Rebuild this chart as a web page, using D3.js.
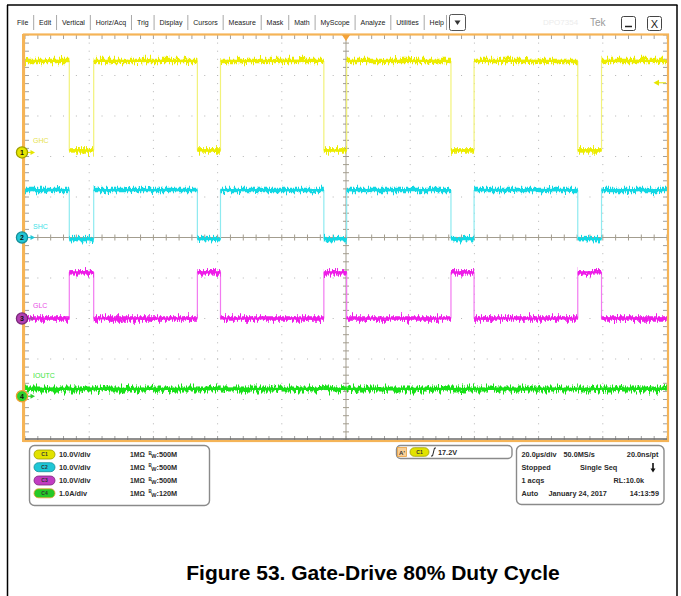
<!DOCTYPE html>
<html><head><meta charset="utf-8">
<script src="https://cdn.jsdelivr.net/npm/d3@7"></script>
<style>body{margin:0;background:#fff}svg{display:block;font-family:"Liberation Sans",Arial,sans-serif}</style>
</head><body><svg id="c" width="681" height="596"></svg>
<script>
// ---------------- data ----------------
const channelNames = ["GHC", "SHC", "GLC", "IOUTC"];
const channelIds = ["C1", "C2", "C3", "C4"];
const verticalScales = ["10.0V/div", "10.0V/div", "10.0V/div", "1.0A/div"];
const unitsPerDiv = [10, 10, 10, 1];
const positionDiv = [2.1, 0, -2.0, -3.92];
const bandwidths = ["500M", "500M", "500M", "120M"];
const riseTimes = [-78.6, -39.1, 0.2, 39.9, 79.6];   // µs, GHC rising edges
const fallTimes = [-86.2, -46.3, -6.9, 32.7, 72.2];  // µs, GHC falling edges
const levelWhenOn = [22.6, 11.7, 0.0, 0.18];   // while GHC is high
const levelWhenOff = [0.5, -0.4, 11.4, 0.18];  // while GHC is low
const triggerLevel = 17.2;
const timeDomain = [-100, 100];
const menuItems = ["File", "Edit", "Vertical", "Horiz/Acq", "Trig", "Display", "Cursors", "Measure", "Mask", "Math", "MyScope", "Analyze", "Utilities", "Help"];
const acqRow1 = ["20.0µs/div", "50.0MS/s", "20.0ns/pt"];
const acqRow2 = ["Stopped", "Single Seq"];
const acqRow3 = ["1 acqs", "RL:10.0k"];
const acqRow4 = ["Auto", "January 24, 2017", "14:13:59"];
const triggerText = "17.2V";
const caption = "Figure 53. Gate-Drive 80% Duty Cycle";

// ---------------- styles ----------------
const traceColors = ["#ecec00", "#12d8e4", "#ee1ce8", "#18e018"];
const edgeColors = ["#f2f27a", "#8eeaf0", "#f27af0", "#7aef7a"];
const labelColors = ["#e6e24a", "#3cdfe8", "#e84ce4", "#3ee43e"];
const markerFill = ["#e6e600", "#22c7d6", "#b33fb3", "#2ed12e"];
const markerRing = ["#9e9e00", "#168f99", "#7a2a7a", "#f0a030"];
const pillFill = ["#e2e200", "#1fc7d6", "#c23cc2", "#26c826"];

const svg = d3.select("#c");
const L = 25, R = 667, T = 35, B = 440;
const x = d3.scaleLinear().domain(timeDomain).range([L, R]);
const xDiv = d3.scaleLinear().domain([-5, 5]).range([L, R]);
const yDiv = d3.scaleLinear().domain([-5, 5]).range([B, T]);
const yCh = (i, v) => yDiv(positionDiv[i] + v / unitsPerDiv[i]);

// outer frame
svg.append("line").attr("x1", 7).attr("x2", 677.5).attr("y1", 5).attr("y2", 5).attr("stroke", "#000").attr("stroke-width", 1.5);
svg.append("line").attr("x1", 7.5).attr("x2", 7.5).attr("y1", 5).attr("y2", 596).attr("stroke", "#000").attr("stroke-width", 1.5);
svg.append("line").attr("x1", 677).attr("x2", 677).attr("y1", 5).attr("y2", 596).attr("stroke", "#000").attr("stroke-width", 1.5);

// menu bar
const menu = svg.append("g").attr("font-size", 7).attr("fill", "#222");
const mt = menu.selectAll("text").data(menuItems).join("text").attr("y", 25).text(d => d);
const widths = mt.nodes().map(n => n.getComputedTextLength());
const startX = 17, endX = 444;
const gap = (endX - startX - d3.sum(widths)) / (menuItems.length - 1);
let cx = startX;
mt.each(function (d, i) {
  d3.select(this).attr("x", cx);
  cx += widths[i];
  if (i < menuItems.length - 1) {
    menu.append("line").attr("x1", cx + gap / 2).attr("x2", cx + gap / 2).attr("y1", 15).attr("y2", 30).attr("stroke", "#a8a8a8").attr("stroke-width", 1);
  }
  cx += gap;
});
menu.append("line").attr("x1", endX + 2.5).attr("x2", endX + 2.5).attr("y1", 15).attr("y2", 30).attr("stroke", "#a8a8a8");
svg.append("rect").attr("x", 449.5).attr("y", 14.5).attr("width", 16).attr("height", 16).attr("rx", 2).attr("fill", "#fff").attr("stroke", "#555");
svg.append("path").attr("d", "M454.5,20.5 L460.5,20.5 L457.5,25 Z").attr("fill", "#333");
svg.append("text").attr("x", 543).attr("y", 25).attr("font-size", 8).attr("fill", "#ececec").text("DPO7354");
svg.append("text").attr("x", 590).attr("y", 26).attr("font-size", 10).attr("fill", "#9a9a9a").text("Tek");
svg.append("rect").attr("x", 621.5).attr("y", 16.5).attr("width", 14).attr("height", 14).attr("rx", 2).attr("fill", "#fff").attr("stroke", "#444");
svg.append("line").attr("x1", 625).attr("x2", 632).attr("y1", 26.5).attr("y2", 26.5).attr("stroke", "#222").attr("stroke-width", 1.5);
svg.append("rect").attr("x", 647.5).attr("y", 16.5).attr("width", 14).attr("height", 14).attr("rx", 2).attr("fill", "#fff").attr("stroke", "#444");
svg.append("text").attr("x", 654.5).attr("y", 27.5).attr("text-anchor", "middle").attr("font-size", 11).attr("fill", "#222").text("X");

// graticule
const grat = svg.append("g");
const minor = d3.range(-5, 5.0001, 0.2).map(v => +v.toFixed(1));
const majorLines = [-4, -3, -2, -1, 1, 2, 3, 4];
majorLines.forEach(m => {
  minor.forEach(k => {
    grat.append("rect").attr("x", xDiv(m) - 0.5).attr("y", yDiv(k) - 0.5).attr("width", 1).attr("height", 1).attr("fill", "#b4b4b4");
    grat.append("rect").attr("x", xDiv(k) - 0.5).attr("y", yDiv(m) - 0.5).attr("width", 1).attr("height", 1).attr("fill", "#b4b4b4");
  });
});
// center cross
grat.append("line").attr("x1", xDiv(0)).attr("x2", xDiv(0)).attr("y1", T).attr("y2", B).attr("stroke", "#a39d8f").attr("stroke-width", 1);
grat.append("line").attr("x1", L).attr("x2", R).attr("y1", yDiv(0)).attr("y2", yDiv(0)).attr("stroke", "#a39d8f").attr("stroke-width", 1);
minor.forEach(k => {
  grat.append("line").attr("x1", xDiv(0) - 3).attr("x2", xDiv(0) + 3).attr("y1", yDiv(k)).attr("y2", yDiv(k)).attr("stroke", "#a39d8f");
  grat.append("line").attr("x1", xDiv(k)).attr("x2", xDiv(k)).attr("y1", yDiv(0) - 3).attr("y2", yDiv(0) + 3).attr("stroke", "#a39d8f");
  // edge ticks
  grat.append("line").attr("x1", xDiv(k)).attr("x2", xDiv(k)).attr("y1", T).attr("y2", T + 4).attr("stroke", "#a0a0a0");
  grat.append("line").attr("x1", xDiv(k)).attr("x2", xDiv(k)).attr("y1", B - 4).attr("y2", B).attr("stroke", "#a0a0a0");
  grat.append("line").attr("x1", L).attr("x2", L + 4).attr("y1", yDiv(k)).attr("y2", yDiv(k)).attr("stroke", "#a0a0a0");
  grat.append("line").attr("x1", R - 4).attr("x2", R).attr("y1", yDiv(k)).attr("y2", yDiv(k)).attr("stroke", "#a0a0a0");
});

// noise filter
const defs = svg.append("defs");
function noiseFilter(id, seed, scale) {
  const f = defs.append("filter").attr("id", id).attr("filterUnits", "userSpaceOnUse")
    .attr("x", 0).attr("y", 0).attr("width", 681).attr("height", 596).attr("color-interpolation-filters", "sRGB");
  f.append("feTurbulence").attr("type", "fractalNoise").attr("baseFrequency", "0.75 0.06").attr("numOctaves", 2).attr("seed", seed).attr("result", "t");
  f.append("feColorMatrix").attr("in", "t").attr("type", "matrix")
    .attr("values", "0 0 0 0 0.5  0 1 0 0 0  0 0 1 0 0  0 0 0 0 1").attr("result", "m");
  f.append("feDisplacementMap").attr("in", "SourceGraphic").attr("in2", "m").attr("scale", scale)
    .attr("xChannelSelector", "R").attr("yChannelSelector", "G");
}
noiseFilter("n1", 3, 12);
noiseFilter("n2", 11, 10);
noiseFilter("n3", 7, 13);

// waveforms
const events = riseTimes.map(t => ({ t, on: true })).concat(fallTimes.map(t => ({ t, on: false }))).sort((a, b) => a.t - b.t);
function segmentsFor(i) {
  const flats = [], edges = [];
  let state = !events[0].on, t0 = timeDomain[0];
  const lv = s => s ? levelWhenOn[i] : levelWhenOff[i];
  events.forEach(e => {
    flats.push({ t0, t1: e.t, v: lv(state) });
    edges.push({ t: e.t, v0: lv(state), v1: lv(e.on) });
    state = e.on; t0 = e.t;
  });
  flats.push({ t0, t1: timeDomain[1], v: lv(state) });
  return { flats, edges };
}
const traces = svg.append("g");
[3, 2, 1, 0].forEach(i => {
  const { flats, edges } = segmentsFor(i);
  const g = traces.append("g");
  g.selectAll(".e").data(edges.filter(e => e.v0 !== e.v1)).join("line")
    .attr("x1", d => x(d.t)).attr("x2", d => x(d.t)).attr("y1", d => yCh(i, d.v0)).attr("y2", d => yCh(i, d.v1))
    .attr("stroke", edgeColors[i]).attr("stroke-width", 1.2);
  const fl = g.append("g").attr("filter", i === 3 ? "url(#n3)" : (i % 2 ? "url(#n2)" : "url(#n1)"));
  fl.selectAll("line").data(flats).join("line")
    .attr("x1", d => x(d.t0)).attr("x2", d => x(d.t1)).attr("y1", d => yCh(i, d.v)).attr("y2", d => yCh(i, d.v))
    .attr("stroke", traceColors[i]).attr("stroke-width", i === 3 ? 5 : 4.5);
  g.selectAll(".f").data(flats).join("line")
    .attr("x1", d => x(d.t0)).attr("x2", d => x(d.t1)).attr("y1", d => yCh(i, d.v)).attr("y2", d => yCh(i, d.v))
    .attr("stroke", traceColors[i]).attr("stroke-width", 2.2);
});

// border
svg.append("rect").attr("x", 24).attr("y", 34.5).attr("width", 644).attr("height", 406.5).attr("fill", "none").attr("stroke", "#f5b457").attr("stroke-width", 2.2);
svg.append("line").attr("x1", 23.5).attr("x2", 23.5).attr("y1", 34).attr("y2", 442).attr("stroke", "#f5b457").attr("stroke-width", 3);
svg.append("line").attr("x1", 25).attr("x2", 667).attr("y1", 439).attr("y2", 439).attr("stroke", "#6a6a6a").attr("stroke-width", 1.3);
// trigger position marker
svg.append("path").attr("d", `M${x(0) - 4},35 L${x(0) + 4},35 L${x(0)},41 Z`).attr("fill", "#f2a23a");
// trigger level arrow
const ty = yCh(0, triggerLevel);
svg.append("line").attr("x1", 657).attr("x2", 666).attr("y1", ty).attr("y2", ty).attr("stroke", "#e6e600").attr("stroke-width", 1);
svg.append("path").attr("d", `M653.5,${ty} L659,${ty - 3} L659,${ty + 3} Z`).attr("fill", "#e6e600");

// channel labels and markers
const labelOffsets = [-11, -11, -13, -20];
channelNames.forEach((n, i) => {
  const gy = yCh(i, 0);
  svg.append("text").attr("x", 33).attr("y", gy + labelOffsets[i] + 2).attr("font-size", 7).attr("fill", labelColors[i]).text(n);
  svg.append("line").attr("x1", 26).attr("x2", 31).attr("y1", gy).attr("y2", gy).attr("stroke", markerFill[i]).attr("stroke-width", 1.2);
  svg.append("path").attr("d", `M35,${gy} L30.5,${gy - 2.5} L30.5,${gy + 2.5} Z`).attr("fill", markerFill[i]);
  svg.append("circle").attr("cx", 22).attr("cy", gy).attr("r", 5.6).attr("fill", markerFill[i]).attr("stroke", markerRing[i]).attr("stroke-width", 1.3);
  svg.append("text").attr("x", 22).attr("y", gy + 2.6).attr("text-anchor", "middle").attr("font-size", 7).attr("font-weight", "bold").attr("fill", "#111").text(i + 1);
});

// bottom: channel info box
const info = svg.append("g").attr("font-size", 7.3).attr("font-weight", "bold").attr("fill", "#2a2a2a");
info.append("rect").attr("x", 29.5).attr("y", 445.5).attr("width", 180).attr("height", 60).attr("rx", 5).attr("fill", "#fff").attr("stroke", "#8a8a8a").attr("stroke-width", 1.4);
const rowY = [454.5, 467.2, 480.5, 493.3];
channelIds.forEach((c, i) => {
  const cy = rowY[i];
  info.append("rect").attr("x", 34).attr("y", cy - 4.5).attr("width", 21).attr("height", 9).attr("rx", 4.5).attr("fill", pillFill[i]).attr("stroke", markerRing[i === 3 ? 3 : i]).attr("stroke-width", 0.8);
  info.append("text").attr("x", 44.5).attr("y", cy + 1.8).attr("text-anchor", "middle").attr("font-size", 5).attr("fill", "#333").text(c);
  info.append("text").attr("x", 59).attr("y", cy + 2.6).text(verticalScales[i]);
  info.append("text").attr("x", 130).attr("y", cy + 2.6).attr("font-size", 6.8).text("1MΩ");
  const bw = info.append("text").attr("x", 148.5).attr("y", cy + 2.6);
  bw.append("tspan").attr("font-size", 4.5).attr("dy", -2.5).text("B");
  bw.append("tspan").attr("font-size", 5.5).attr("dy", 3.5).attr("dx", -0.5).text("W");
  bw.append("tspan").attr("dy", -1).text(":" + bandwidths[i]);
});

// trigger box
const trg = svg.append("g").attr("font-size", 7.3).attr("font-weight", "bold").attr("fill", "#2a2a2a");
trg.append("rect").attr("x", 396.5).attr("y", 445.5).attr("width", 115.5).attr("height", 13).attr("rx", 4).attr("fill", "#fff").attr("stroke", "#8a8a8a").attr("stroke-width", 1.4);
trg.append("rect").attr("x", 397.5).attr("y", 447.5).attr("width", 9).attr("height", 9).attr("fill", "#f8cf95").attr("stroke", "#e8a040").attr("stroke-width", 0.8);
trg.append("text").attr("x", 402).attr("y", 454.5).attr("text-anchor", "middle").attr("font-size", 6).attr("fill", "#333").text("A'");
trg.append("rect").attr("x", 410).attr("y", 447.7).attr("width", 19).attr("height", 8.6).attr("rx", 4.3).attr("fill", pillFill[0]).attr("stroke", markerRing[0]).attr("stroke-width", 0.8);
trg.append("text").attr("x", 419.5).attr("y", 454).attr("text-anchor", "middle").attr("font-size", 5).attr("fill", "#333").text("C1");
trg.append("path").attr("d", "M431,456 L432.5,456 L434.5,448 L436,448").attr("fill", "none").attr("stroke", "#222").attr("stroke-width", 1);
trg.append("text").attr("x", 438).attr("y", 455).text(triggerText);

// acquisition box
const acq = svg.append("g").attr("font-size", 7.3).attr("font-weight", "bold").attr("fill", "#2a2a2a");
acq.append("rect").attr("x", 516.5).attr("y", 445.5).attr("width", 147.5).attr("height", 59).attr("rx", 5).attr("fill", "#fff").attr("stroke", "#8a8a8a").attr("stroke-width", 1.4);
acq.append("text").attr("x", 521.5).attr("y", 457).text(acqRow1[0]);
acq.append("text").attr("x", 563.5).attr("y", 457).text(acqRow1[1]);
acq.append("text").attr("x", 658.5).attr("y", 457).attr("text-anchor", "end").text(acqRow1[2]);
acq.append("text").attr("x", 521.5).attr("y", 470).text(acqRow2[0]);
acq.append("text").attr("x", 580).attr("y", 470).text(acqRow2[1]);
acq.append("line").attr("x1", 653).attr("x2", 653).attr("y1", 463).attr("y2", 469).attr("stroke", "#111").attr("stroke-width", 1.6);
acq.append("path").attr("d", "M650.5,468.5 L655.5,468.5 L653,472.5 Z").attr("fill", "#111");
acq.append("text").attr("x", 521.5).attr("y", 483.3).text(acqRow3[0]);
acq.append("text").attr("x", 644).attr("y", 483.3).attr("text-anchor", "end").text(acqRow3[1]);
acq.append("text").attr("x", 521.5).attr("y", 496).text(acqRow4[0]);
acq.append("text").attr("x", 548.5).attr("y", 496).text(acqRow4[1]);
acq.append("text").attr("x", 659).attr("y", 496).attr("text-anchor", "end").text(acqRow4[2]);

// caption
svg.append("text").attr("x", 373).attr("y", 580).attr("text-anchor", "middle").attr("font-size", 21).attr("font-weight", "bold").attr("fill", "#000").text(caption);
</script></body></html>
